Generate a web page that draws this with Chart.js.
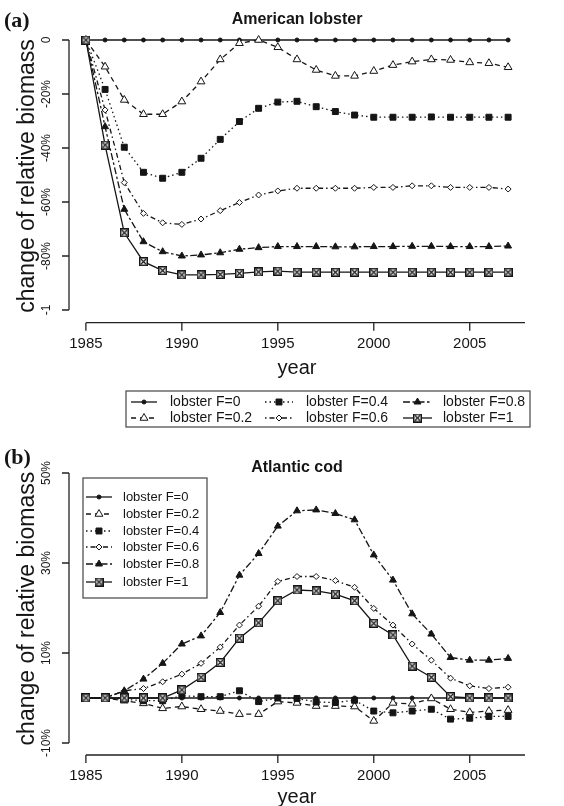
<!DOCTYPE html>
<html>
<head>
<meta charset="utf-8">
<script src="https://cdn.jsdelivr.net/npm/chart.js@4.4.1/dist/chart.umd.min.js"></script>
<style>
  body { margin: 0; background: #fff; width: 564px; height: 806px; overflow: hidden; }
  canvas { position: absolute; left: 0; }
  #lobsterChart { top: 0; }
  #codChart { top: 432px; }
</style>
</head>
<body>
<canvas id="lobsterChart" width="564" height="432"></canvas>
<canvas id="codChart" width="564" height="374"></canvas>
<script>
// Data (fractions of initial biomass)
const years = [1985, 1986, 1987, 1988, 1989, 1990, 1991, 1992, 1993, 1994, 1995, 1996,
               1997, 1998, 1999, 2000, 2001, 2002, 2003, 2004, 2005, 2006, 2007];
const seriesNames = ['lobster F=0', 'lobster F=0.2', 'lobster F=0.4', 'lobster F=0.6', 'lobster F=0.8', 'lobster F=1'];

// (a) American lobster
const lobF0  = [0, 0, 0, 0, 0, 0, 0, 0, 0, 0, 0, 0, 0, 0, 0, 0, 0, 0, 0, 0, 0, 0, 0];
const lobF02 = [0, -0.099, -0.222, -0.275, -0.275, -0.228, -0.154, -0.072, -0.012, 0, -0.027, -0.072,
                -0.111, -0.133, -0.133, -0.115, -0.093, -0.080, -0.072, -0.074, -0.083, -0.086, -0.101];
const lobF04 = [0, -0.183, -0.397, -0.49, -0.512, -0.49, -0.438, -0.368, -0.302, -0.253, -0.23, -0.227,
                -0.247, -0.265, -0.278, -0.286, -0.286, -0.286, -0.285, -0.286, -0.286, -0.286, -0.286];
const lobF06 = [0, -0.259, -0.528, -0.642, -0.677, -0.683, -0.663, -0.632, -0.602, -0.574, -0.559, -0.549,
                -0.549, -0.549, -0.549, -0.546, -0.546, -0.54, -0.54, -0.546, -0.546, -0.546, -0.552];
const lobF08 = [0, -0.321, -0.627, -0.747, -0.784, -0.8, -0.796, -0.788, -0.775, -0.769, -0.765, -0.765,
                -0.765, -0.766, -0.766, -0.765, -0.765, -0.764, -0.764, -0.765, -0.765, -0.765, -0.763];
const lobF1  = [0, -0.389, -0.714, -0.821, -0.854, -0.87, -0.87, -0.868, -0.864, -0.859, -0.856, -0.86,
                -0.86, -0.86, -0.86, -0.86, -0.86, -0.86, -0.86, -0.86, -0.86, -0.86, -0.86];

// (b) Atlantic cod
const codF0  = [0, 0, 0, 0, 0, 0, 0, 0, 0, 0, 0, 0, 0, 0, 0, 0, 0, 0, 0, 0, 0, 0, 0];
const codF02 = [0, 0, -0.006, -0.012, -0.023, -0.019, -0.025, -0.029, -0.036, -0.036, -0.008, -0.011,
                -0.018, -0.018, -0.019, -0.051, -0.011, -0.013, -0.001, -0.025, -0.032, -0.029, -0.027];
const codF04 = [0, 0, -0.003, -0.006, -0.006, 0.005, 0.003, 0.003, 0.016, -0.008, 0, -0.001,
                -0.009, -0.010, -0.005, -0.029, -0.033, -0.029, -0.025, -0.047, -0.045, -0.041, -0.041];
const codF06 = [0, 0, 0.016, 0.021, 0.036, 0.053, 0.077, 0.113, 0.162, 0.204, 0.259, 0.27,
                0.27, 0.261, 0.246, 0.199, 0.162, 0.12, 0.084, 0.044, 0.027, 0.021, 0.024];
const codF08 = [0, 0, 0.016, 0.042, 0.077, 0.12, 0.138, 0.19, 0.273, 0.321, 0.382, 0.416,
                0.418, 0.41, 0.396, 0.318, 0.262, 0.187, 0.142, 0.09, 0.084, 0.084, 0.088];
const codF1  = [0, 0, 0, 0, 0, 0.018, 0.046, 0.079, 0.133, 0.167, 0.216, 0.24,
                0.238, 0.231, 0.216, 0.166, 0.14, 0.071, 0.046, 0.003, 0, 0, 0];

// Tick labels
const xTicks = [1985, 1990, 1995, 2000, 2005];
const lobYTicks = [0, -0.2, -0.4, -0.6, -0.8, -1];
const lobYLabels = ['0', '-20%', '-40%', '-60%', '-80%', '-1'];
const codYTicks = [-0.1, 0.1, 0.3, 0.5];
const codYLabels = ['-10%', '10%', '30%', '50%'];

const INK = '#151515';
const SANS = '"Liberation Sans", Arial, sans-serif';

// square with a cross inside
function makeBoxX(size) {
    const c = document.createElement('canvas');
    c.width = size; c.height = size;
    const g = c.getContext('2d');
    g.fillStyle = '#fff';
    g.fillRect(0, 0, size, size);
    g.strokeStyle = INK;
    g.lineWidth = 1.5;
    g.strokeRect(0.75, 0.75, size - 1.5, size - 1.5);
    g.lineWidth = 1.2;
    g.beginPath();
    g.moveTo(2, 2); g.lineTo(size - 2, size - 2);
    g.moveTo(size - 2, 2); g.lineTo(2, size - 2);
    g.stroke();
    return c;
}
const boxX = makeBoxX(9);

// line + marker style per fishing level
const seriesStyles = [
    { dash: [],             point: 'circle',   radius: 2,   fill: INK },
    { dash: [5, 4],         point: 'triangle', radius: 4.5, fill: '#fff' },
    { dash: [1.5, 3],       point: 'rect',     radius: 4.2, fill: INK },
    { dash: [1.5, 3, 5, 3], point: 'rectRot',  radius: 3,   fill: '#fff' },
    { dash: [7, 2.5, 2.5, 2.5], point: 'triangle', radius: 4, fill: INK },
    { dash: [],             point: boxX,       radius: 4.5, fill: '#fff' }
];

const buildDatasets = (seriesList) => seriesList.map((vals, i) => ({
    label: seriesNames[i],
    data: years.map((yr, k) => ({ x: yr, y: vals[k] })),
    borderColor: INK,
    borderWidth: 1.3,
    borderDash: seriesStyles[i].dash,
    pointStyle: seriesStyles[i].point,
    pointRadius: seriesStyles[i].radius,
    pointBorderWidth: 1,
    pointBorderColor: INK,
    pointBackgroundColor: seriesStyles[i].fill,
    tension: 0,
    fill: false,
    order: seriesList.length - i
}));

function drawMarker(ctx, st, x, y) {
    ctx.setLineDash([]);
    ctx.lineWidth = 1;
    ctx.strokeStyle = INK;
    ctx.fillStyle = st.fill;
    Chart.helpers.drawPoint(ctx, { pointStyle: st.point, radius: st.radius, rotation: 0, borderWidth: 1 }, x, y);
}

function drawLegendItem(ctx, i, x1, x2, y, textX, font) {
    const st = seriesStyles[i];
    ctx.save();
    ctx.strokeStyle = INK;
    ctx.lineWidth = 1.3;
    ctx.setLineDash(st.dash);
    ctx.beginPath();
    ctx.moveTo(x1, y); ctx.lineTo(x2, y);
    ctx.stroke();
    drawMarker(ctx, st, (x1 + x2) / 2, y);
    ctx.fillStyle = INK;
    ctx.font = font;
    ctx.textAlign = 'left';
    ctx.textBaseline = 'middle';
    ctx.fillText(seriesNames[i], textX, y + 0.5);
    ctx.restore();
}

// R-style detached axes, titles, panel tag and boxed legend
const rStyle = {
    id: 'rStyle',
    afterDraw(chart, args, o) {
        const { ctx, chartArea: a, scales: { x, y } } = chart;
        const midX = (a.left + a.right) / 2;
        ctx.save();
        ctx.strokeStyle = '#222';
        ctx.fillStyle = INK;
        ctx.lineWidth = 1.3;
        ctx.setLineDash([]);

        // y axis
        const yHi = y.getPixelForValue(Math.max(...o.yTicks));
        const yLo = y.getPixelForValue(Math.min(...o.yTicks));
        ctx.beginPath();
        ctx.moveTo(a.left, yHi); ctx.lineTo(a.left, yLo);
        o.yTicks.forEach(v => {
            const py = y.getPixelForValue(v);
            ctx.moveTo(a.left, py); ctx.lineTo(a.left - 7, py);
        });
        // x axis runs to the plot edge
        ctx.moveTo(x.getPixelForValue(xTicks[0]), a.bottom);
        ctx.lineTo(a.right, a.bottom);
        xTicks.forEach(v => {
            const px = x.getPixelForValue(v);
            ctx.moveTo(px, a.bottom); ctx.lineTo(px, a.bottom + 8);
        });
        ctx.stroke();

        // y tick labels (rotated, as in R)
        ctx.font = '12px ' + SANS;
        ctx.textAlign = 'center';
        ctx.textBaseline = 'middle';
        o.yTicks.forEach((v, i) => {
            ctx.save();
            ctx.translate(a.left - 22, y.getPixelForValue(v));
            ctx.rotate(-Math.PI / 2);
            ctx.fillText(o.yLabels[i], 0, 0);
            ctx.restore();
        });
        // x tick labels
        ctx.font = '15px ' + SANS;
        xTicks.forEach(v => ctx.fillText(String(v), x.getPixelForValue(v), a.bottom + 21));

        // axis titles
        ctx.font = '20px ' + SANS;
        ctx.fillText('year', midX, a.bottom + o.yearGap);
        ctx.save();
        ctx.translate(28, (a.top + a.bottom) / 2);
        ctx.rotate(-Math.PI / 2);
        ctx.font = '23px ' + SANS;
        ctx.fillText('change of relative biomass', 0, 0);
        ctx.restore();

        // panel title and tag
        ctx.font = 'bold 16px ' + SANS;
        ctx.fillText(o.title, midX, o.titleY);
        ctx.font = 'bold 22px "Liberation Serif", serif';
        ctx.textAlign = 'left';
        ctx.fillText(o.tag, 4, o.tagY);

        // legend box
        const L = o.legend;
        ctx.strokeStyle = '#444';
        ctx.lineWidth = 1.2;
        ctx.strokeRect(L.box[0], L.box[1], L.box[2], L.box[3]);
        L.items.forEach(it => drawLegendItem(ctx, it.i, it.x1, it.x2, it.y, it.tx, L.font));
        ctx.restore();
    }
};

function makeChart(id, seriesList, yMin, yMax, pad, opts) {
    return new Chart(document.getElementById(id).getContext('2d'), {
        type: 'line',
        data: { datasets: buildDatasets(seriesList) },
        options: {
            responsive: false,
            animation: false,
            layout: { padding: pad },
            plugins: { legend: { display: false }, tooltip: { enabled: false }, rStyle: opts },
            scales: {
                x: { type: 'linear', min: 1984.12, max: 2007.88, display: false },
                y: { type: 'linear', min: yMin, max: yMax, display: false }
            }
        },
        plugins: [rStyle]
    });
}

// 3-column legend below panel (a): R fills column-wise
const lobLegendItems = [];
const lobCols = [[131, 157, 170], [265, 293, 306], [403, 432, 443]];
const lobRows = [402, 418];
seriesNames.forEach((n, i) => {
    const c = lobCols[Math.floor(i / 2)];
    lobLegendItems.push({ i: i, x1: c[0], x2: c[1], tx: c[2], y: lobRows[i % 2] });
});

const codRows = [65, 82, 99, 115, 132, 150];
const codLegendItems = seriesNames.map((n, i) => ({ i: i, x1: 86, x2: 112, tx: 123, y: codRows[i] }));

makeChart('lobsterChart', [lobF0, lobF02, lobF04, lobF06, lobF08, lobF1], -1.047, 0.04,
    { left: 69, right: 39, top: 29.2, bottom: 109.3 },
    { yTicks: lobYTicks, yLabels: lobYLabels, title: 'American lobster', titleY: 20,
      tag: '(a)', tagY: 21, yearGap: 46,
      legend: { box: [126, 391, 404, 36], font: '14px ' + SANS, items: lobLegendItems } });

makeChart('codChart', [codF0, codF02, codF04, codF06, codF08, codF1], -0.1267, 0.524,
    { left: 69, right: 39, top: 30.2, bottom: 51 },
    { yTicks: codYTicks, yLabels: codYLabels, title: 'Atlantic cod', titleY: 36,
      tag: '(b)', tagY: 26, yearGap: 42,
      legend: { box: [83, 46, 124, 120], font: '13px ' + SANS, items: codLegendItems } });
</script>
</body>
</html>
